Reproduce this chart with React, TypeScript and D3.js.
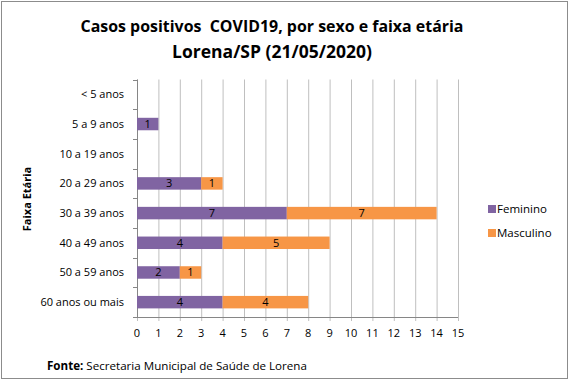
import React from "react";
import * as d3 from "d3";

const categories = ["< 5 anos", "5 a 9 anos", "10 a 19 anos", "20 a 29 anos", "30 a 39 anos", "40 a 49 anos", "50 a 59 anos", "60 anos ou mais"];
const feminino = [0, 1, 0, 3, 7, 4, 2, 4];
const masculino = [0, 0, 0, 1, 7, 5, 1, 4];
const xTicks = d3.range(0, 16);
const seriesNames = ["Feminino", "Masculino"];
const colors = ["#8064A2", "#F79646"];

const W = 570, H = 381;
const left = 137, right = 458, top = 79.5, bottom = 317;
const font = "'Open Sans', 'Noto Sans', sans-serif";

export default function App() {
  const x = d3.scaleLinear().domain([0, 15]).range([left, right]);
  const y = d3.scaleBand().domain(categories).range([top, bottom]).paddingInner(0.58).paddingOuter(0.29);
  const band = (bottom - top) / categories.length;
  const stack = d3.stack<any>().keys(["f", "m"])(categories.map((c, i) => ({ c, f: feminino[i], m: masculino[i] })));
  return (
    <svg width={W} height={H} style={{ position: "absolute", left: 0, top: 0 }}>
      <rect x={0} y={0} width={W} height={H} fill="#fff" />
      <rect x={1.5} y={1.5} width={W - 4} height={H - 4} fill="none" stroke="#8c8c8c" strokeWidth={1} />
      <text x={272} y={32} textAnchor="middle" fontFamily={font} fontWeight="bold" fontSize={16.5} fill="#000" textLength={383} lengthAdjust="spacingAndGlyphs" style={{ whiteSpace: "pre" }}>{"Casos positivos\u00a0 COVID19, por sexo e faixa etária"}</text>
      <text x={272} y={58} textAnchor="middle" fontFamily={font} fontWeight="bold" fontSize={17.5} fill="#000">Lorena/SP (21/05/2020)</text>
      {xTicks.map(t => (
        <line key={t} x1={x(t) + 0.5} x2={x(t) + 0.5} y1={top} y2={bottom + 4} stroke="#BFBFBF" />
      ))}
      <line x1={left + 0.5} x2={left + 0.5} y1={top} y2={bottom} stroke="#868686" />
      <line x1={left} x2={right} y1={bottom + 0.5} y2={bottom + 0.5} stroke="#868686" />
      {d3.range(categories.length + 1).map(i => (
        <line key={i} x1={left - 4} x2={left} y1={Math.round(top + i * band) + 0.5} y2={Math.round(top + i * band) + 0.5} stroke="#868686" />
      ))}
      {xTicks.map(t => (
        <text key={t} x={x(t)} y={337} textAnchor="middle" fontFamily={font} fontSize={11} fill="#000">{t}</text>
      ))}
      {categories.map(c => (
        <text key={c} x={left - 13} y={(y(c) as number) + y.bandwidth() / 2 + 4} textAnchor="end" fontFamily={font} fontSize={11} fill="#000">{c}</text>
      ))}
      {stack.map((s, si) => s.map((d, i) => {
        const v = d[1] - d[0];
        if (!v) return null;
        const yy = y(categories[i]) as number;
        return (
          <g key={si + "-" + i}>
            <rect x={x(d[0])} y={yy} width={x(d[1]) - x(d[0])} height={y.bandwidth()} fill={colors[si]} />
            <text x={(x(d[0]) + x(d[1])) / 2} y={yy + y.bandwidth() / 2 + 4} textAnchor="middle" fontFamily={font} fontSize={11} fill="#000">{v}</text>
          </g>
        );
      }))}
      <text transform="translate(31,199) rotate(-90)" textAnchor="middle" fontFamily={font} fontWeight="bold" fontSize={11} fill="#000">Faixa Etária</text>
      {seriesNames.map((n, i) => (
        <g key={n}>
          <rect x={488} y={205 + i * 24} width={8} height={8} fill={colors[i]} />
          <text x={497} y={213 + i * 24} fontFamily={font} fontSize={11.5} fill="#000">{n}</text>
        </g>
      ))}
      <text x={47} y={370} fontFamily={font} fontSize={11.6} fill="#000"><tspan fontWeight="bold">Fonte:</tspan> Secretaria Municipal de Saúde de Lorena</text>
    </svg>
  );
}
